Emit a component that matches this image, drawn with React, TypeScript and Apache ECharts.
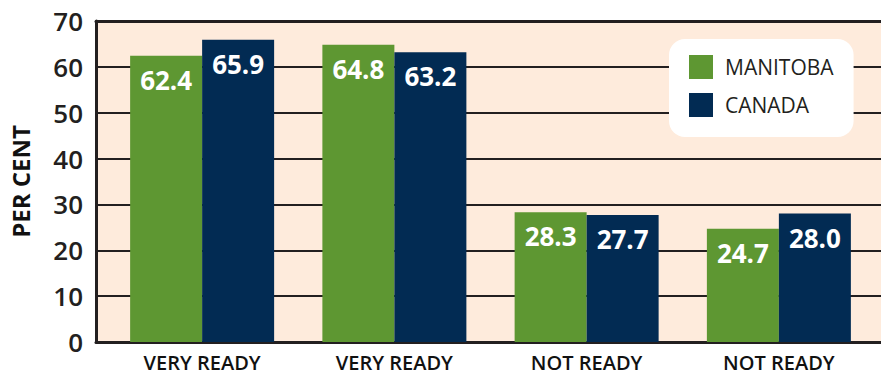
import React, { useEffect, useRef } from "react";
import * as echarts from "echarts";

const categories = ["VERY READY", "VERY READY", "NOT READY", "NOT READY"];
const manitoba = [62.4, 64.8, 28.3, 24.7];
const canada = [65.9, 63.2, 27.7, 28.0];
const seriesNames = ["MANITOBA", "CANADA"];
const yTicks = { min: 0, max: 70, interval: 10 };

const GREEN = "#5e9732";
const NAVY = "#022b53";
const PEACH = "#feebdc";
const DARK = "#231f20";
const FONT = "'Open Sans', 'Noto Sans', sans-serif";

export default function App() {
  const ref = useRef<HTMLDivElement>(null);
  useEffect(() => {
    if (!ref.current) return;
    const chart = echarts.init(ref.current, undefined, { renderer: "svg" });
    const label = {
      show: true,
      position: "insideTop" as const,
      distance: 11,
      color: "#ffffff",
      fontSize: 26,
      fontWeight: 700,
      fontFamily: FONT,
      formatter: (p: any) => Number(p.value).toFixed(1),
    };
    chart.setOption({
      animation: false,
      textStyle: { fontFamily: FONT },
      grid: [
        { left: 93, top: 21, right: 0, bottom: 35, show: true, backgroundColor: PEACH, borderWidth: 0, containLabel: false },
        { left: 106, top: 21, right: 6, bottom: 35, containLabel: false },
      ],
      legend: {
        data: seriesNames,
        orient: "vertical",
        left: 669,
        top: 39,
        backgroundColor: "#ffffff",
        borderRadius: 16,
        padding: [16, 20, 20, 20],
        itemWidth: 24,
        itemHeight: 24,
        itemGap: 14,
        icon: "rect",
        textStyle: { color: DARK, fontSize: 21, fontWeight: 500, fontFamily: FONT, padding: [0, 0, 0, 7] },
      },
      xAxis: [
        {
          type: "value", gridIndex: 0, min: 0, max: 1, position: "bottom",
          axisLine: { show: true, onZero: false, lineStyle: { color: DARK, width: 3 } },
          axisTick: { show: false }, axisLabel: { show: false }, splitLine: { show: false },
        },
        {
          type: "value", gridIndex: 0, min: 0, max: 1, position: "top",
          axisLine: { show: true, onZero: false, lineStyle: { color: DARK, width: 3 } },
          axisTick: { show: false }, axisLabel: { show: false }, splitLine: { show: false },
        },
        {
          type: "category", gridIndex: 1, data: categories,
          axisLine: { show: false }, axisTick: { show: false },
          axisLabel: { color: "#111", fontSize: 20, fontWeight: 600, fontFamily: FONT, margin: 10, lineHeight: 20 },
        },
      ],
      yAxis: [
        {
          type: "value", gridIndex: 0, min: yTicks.min, max: yTicks.max, interval: yTicks.interval,
          name: "PER CENT", nameLocation: "middle", nameGap: 64, nameRotate: 90,
          nameTextStyle: { color: "#111", fontSize: 24, fontWeight: 700, fontFamily: FONT },
          axisLine: { show: true, lineStyle: { color: DARK, width: 3 } },
          axisTick: { show: false },
          axisLabel: { color: DARK, fontSize: 26, fontWeight: 600, fontFamily: FONT, margin: 13 },
          splitLine: { show: true, lineStyle: { color: DARK, width: 2 } },
        },
        {
          type: "value", gridIndex: 1, min: yTicks.min, max: yTicks.max, interval: yTicks.interval,
          show: false, splitLine: { show: false },
        },
      ],
      series: [
        {
          name: seriesNames[0], type: "bar", xAxisIndex: 2, yAxisIndex: 1, data: manitoba,
          itemStyle: { color: GREEN }, barWidth: 72, barGap: "0%", label,
        },
        {
          name: seriesNames[1], type: "bar", xAxisIndex: 2, yAxisIndex: 1, data: canada,
          itemStyle: { color: NAVY }, barWidth: 72, barGap: "0%", label,
        },
      ],
    });
    return () => chart.dispose();
  }, []);
  return <div ref={ref} style={{ width: 881, height: 377, position: "absolute", left: 0, top: 0 }} />;
}
